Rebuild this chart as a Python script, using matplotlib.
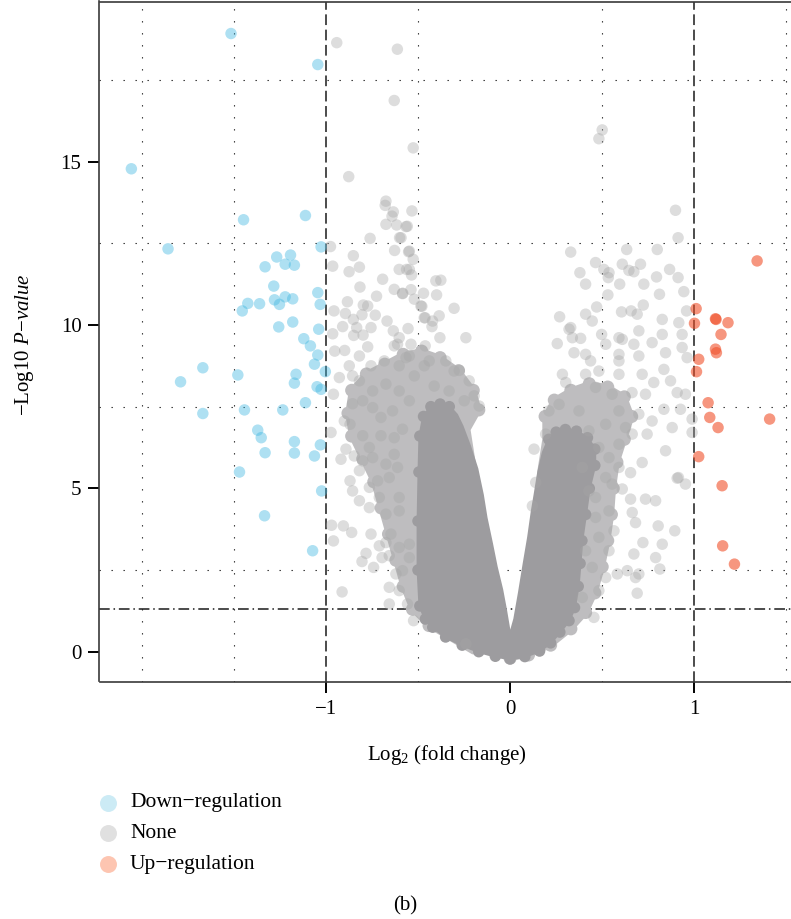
import numpy as np
import matplotlib
matplotlib.use("Agg")
import matplotlib.pyplot as plt
from matplotlib.lines import Line2D

plt.rcParams['font.family'] = ['Liberation Serif', 'DejaVu Serif']
plt.rcParams['mathtext.fontset'] = 'custom'
plt.rcParams['mathtext.rm'] = 'Liberation Serif'
plt.rcParams['mathtext.it'] = 'Liberation Serif:italic'

# ---- data: (log2 fold change, -log10 p) ----
down_points = [
    (-1.515, 18.92), (-1.044, 17.97), (-2.056, 14.78), (-1.447, 13.22), (-1.111, 13.35),
    (-1.857, 12.33), (-1.026, 12.39), (-1.267, 12.08), (-1.192, 12.14), (-1.330, 11.78),
    (-1.221, 11.86), (-1.171, 11.83), (-1.283, 11.19), (-1.044, 10.99), (-1.424, 10.66),
    (-1.360, 10.65), (-1.279, 10.77), (-1.252, 10.63), (-1.221, 10.86), (-1.180, 10.80),
    (-1.031, 10.63), (-1.454, 10.43), (-1.256, 9.94), (-1.180, 10.09), (-1.039, 9.87),
    (-1.120, 9.58), (-1.084, 9.36), (-1.044, 9.08), (-1.062, 8.80), (-1.003, 8.57),
    (-1.668, 8.69), (-1.789, 8.26), (-1.478, 8.47), (-1.162, 8.49), (-1.171, 8.22),
    (-1.048, 8.11), (-1.026, 8.03), (-1.111, 7.62), (-1.668, 7.29), (-1.442, 7.40),
    (-1.234, 7.40), (-1.370, 6.78), (-1.351, 6.55), (-1.171, 6.43), (-1.030, 6.33),
    (-1.330, 6.09), (-1.171, 6.08), (-1.062, 5.99), (-1.469, 5.50), (-1.023, 4.92),
    (-1.333, 4.16), (-1.072, 3.09),
]

up_points = [
    (1.341, 11.96), (1.010, 10.50), (1.115, 10.19), (1.118, 10.17), (1.183, 10.07),
    (1.001, 10.05), (1.145, 9.71), (1.115, 9.26), (1.120, 9.15), (1.024, 8.95),
    (1.012, 8.57), (1.075, 7.62), (1.084, 7.17), (1.409, 7.12), (1.129, 6.86),
    (1.024, 5.97), (1.151, 5.08), (1.154, 3.24), (1.218, 2.68),
]

# individually visible "None" genes
none_points = [
    (-0.941, 18.64), (-0.612, 18.44), (-0.629, 16.87), (-0.526, 15.42), (-0.876, 14.54),
    (0.500, 15.97), (0.482, 15.70), (-0.674, 13.79), (0.898, 13.51), (0.912, 12.67),
    (-0.533, 13.49), (-0.565, 13.01), (-0.592, 12.67), (-0.547, 12.26), (-0.526, 12.01),
    (-0.547, 11.70), (-0.535, 11.53), (-0.403, 11.35), (-0.376, 11.37), (-0.583, 10.97),
    (-0.470, 10.97), (-0.399, 10.92), (-0.520, 10.79), (-0.304, 10.51), (-0.484, 10.58),
    (-0.385, 10.28), (-0.466, 10.22), (-0.421, 10.12), (-0.240, 9.61), (-0.975, 12.40),
    (-0.678, 13.66), (-0.634, 13.46), (-0.641, 13.33), (-0.674, 13.08), (-0.616, 13.06),
    (-0.558, 13.02), (-0.760, 12.65), (-0.600, 12.67), (-0.627, 12.28), (-0.551, 12.24),
    (-0.851, 12.12), (-0.963, 11.80), (-0.818, 11.77), (-0.874, 11.63), (-0.602, 11.70),
    (-0.562, 11.70), (-0.692, 11.40), (-0.815, 11.16), (-0.629, 11.09), (-0.538, 11.08),
    (-0.584, 10.96), (-0.725, 10.88), (-0.883, 10.71), (-0.797, 10.61), (-0.479, 10.57),
    (-0.956, 10.43), (-0.894, 10.35), (-0.773, 10.58), (-0.732, 10.30), (-0.804, 10.31),
    (-0.851, 10.17), (-0.668, 10.12), (-0.461, 10.22), (-0.833, 9.92), (-0.755, 9.92),
    (-0.634, 9.82), (-0.554, 9.89), (-0.424, 9.95), (-0.963, 9.73), (-0.909, 9.95),
    (-0.849, 9.68), (-0.798, 9.69), (-0.602, 9.61), (-0.381, 9.61), (-0.952, 9.20),
    (-0.898, 9.22), (-0.773, 9.33), (-0.818, 9.05), (-0.611, 9.41), (-0.538, 9.41),
    (-0.461, 9.36), (-0.755, 8.75), (-0.873, 8.75), (-0.276, 8.61), (-0.349, 8.90),
    (-0.565, 9.00), (-0.439, 8.90), (-0.629, 9.36), (-0.547, 9.05), (-0.466, 8.75),
    (-0.304, 8.59), (-0.222, 8.29), (-0.520, 8.44), (-0.412, 8.13), (-0.331, 7.98),
    (-0.602, 8.75), (-0.683, 8.90), (-0.195, 7.83), (-0.249, 7.68), (-0.168, 7.52),
    (-0.959, 7.88), (-0.855, 7.59), (-0.900, 7.06), (-0.972, 6.71), (-0.869, 6.96),
    (-0.800, 6.61), (-0.891, 6.20), (-0.918, 5.89), (-0.846, 5.99), (-0.764, 6.25),
    (-0.701, 6.61), (-0.869, 5.23), (-0.818, 4.62), (-0.855, 4.92), (-0.764, 4.41),
    (-0.710, 4.72), (-0.969, 3.87), (-0.905, 3.85), (-0.860, 3.65), (-0.959, 3.39),
    (-0.755, 3.60), (-0.710, 3.24), (-0.782, 3.01), (-0.804, 2.76), (-0.741, 2.58),
    (-0.647, 3.60), (-0.656, 2.94), (-0.695, 2.88), (-0.912, 1.83), (-0.656, 1.97),
    (-0.602, 1.87), (-0.656, 1.46), (-0.557, 1.46), (-0.524, 0.95), (-0.240, 0.24),
    (-0.800, 5.84), (-0.746, 5.94), (-0.674, 5.74), (-0.818, 5.54), (-0.719, 5.23),
    (-0.656, 5.33), (-0.611, 5.64), (-0.764, 5.03), (-0.629, 6.04), (-0.629, 6.55),
    (-0.584, 6.81), (-0.701, 7.17), (-0.638, 7.37), (-0.746, 7.98), (-0.674, 8.19),
    (-0.602, 7.98), (-0.547, 7.68), (-0.818, 8.29), (-0.927, 8.39), (-0.855, 8.44),
    (-0.746, 7.47), (-0.800, 7.68), (-0.602, 4.31), (-0.602, 4.72), (-0.674, 4.21),
    (-0.547, 3.29), (-0.584, 2.48), (-0.620, 2.38), (-0.547, 2.88), (-0.602, 3.19),
    (-0.674, 3.34),
    (0.329, 12.23), (0.633, 12.31), (0.799, 12.31), (0.464, 11.91), (0.708, 11.86),
    (0.609, 11.86), (0.379, 11.60), (0.509, 11.70), (0.537, 11.60), (0.645, 11.67),
    (0.672, 11.63), (0.866, 11.70), (0.795, 11.47), (0.912, 11.45), (0.410, 11.25),
    (0.533, 11.45), (0.595, 11.25), (0.726, 11.25), (0.943, 11.02), (0.811, 10.94),
    (0.531, 10.92), (0.723, 10.61), (0.470, 10.55), (0.410, 10.33), (0.605, 10.40),
    (0.657, 10.43), (0.690, 10.33), (0.269, 10.25), (0.958, 10.43), (0.826, 10.17),
    (0.916, 10.07), (0.329, 9.92), (0.446, 10.12), (0.699, 9.82), (0.826, 9.71),
    (0.934, 9.71), (0.256, 9.43), (0.497, 9.71), (0.609, 9.56), (0.771, 9.46),
    (0.338, 9.61), (0.383, 9.59), (0.320, 9.87), (0.519, 9.41), (0.591, 9.61),
    (0.672, 9.41), (0.844, 9.15), (0.934, 9.31), (0.961, 9.00), (0.347, 9.15),
    (0.410, 9.10), (0.437, 8.90), (0.591, 9.10), (0.699, 9.05), (0.591, 8.90),
    (0.835, 8.64), (0.284, 8.49), (0.302, 8.24), (0.410, 8.49), (0.482, 8.59),
    (0.591, 8.49), (0.717, 8.49), (0.780, 8.24), (0.871, 8.29), (0.907, 7.93),
    (0.952, 7.88), (0.464, 8.09), (0.554, 7.88), (0.662, 7.93), (0.735, 7.88),
    (0.988, 7.12), (0.988, 6.71), (0.880, 6.86), (0.835, 7.42), (0.925, 7.42),
    (0.771, 7.06), (0.844, 6.15), (0.744, 6.66), (0.907, 5.31), (0.952, 5.13),
    (0.735, 4.67), (0.790, 4.62), (0.654, 4.67), (0.663, 4.26), (0.681, 3.95),
    (0.804, 3.85), (0.894, 3.70), (0.721, 3.34), (0.826, 3.29), (0.672, 2.99),
    (0.790, 2.88), (0.813, 2.53), (0.636, 2.48), (0.699, 2.38), (0.681, 2.27),
    (0.690, 1.79), (0.582, 2.38), (0.455, 1.05), (0.130, 6.20), (0.139, 5.18),
    (0.121, 4.46), (0.663, 6.66), (0.717, 5.79), (0.654, 5.48), (0.591, 5.64),
    (0.554, 5.13), (0.609, 4.98), (0.537, 4.31), (0.564, 3.70), (0.537, 3.09),
    (0.519, 2.27), (0.482, 1.87), (0.392, 1.66), (0.446, 2.58), (0.482, 3.50),
    (0.464, 4.11), (0.464, 4.72), (0.519, 5.33), (0.537, 5.94), (0.591, 6.35),
    (0.482, 6.25), (0.627, 6.86), (0.699, 7.27), (0.591, 7.37), (0.519, 6.96),
    (0.428, 6.76), (0.374, 7.37), (0.266, 7.57), (0.211, 7.37), (0.193, 6.66),
    (0.392, 5.64), (0.428, 4.92), (0.410, 3.09), (0.914, 5.33),
]

# outline of the solid V-shaped mass of overlapping "None" genes
core_outline = [
    (0.0, 0.45), (-0.01, 0.8), (-0.025, 1.3), (-0.045, 1.9), (-0.075, 2.6), (-0.10, 3.3),
    (-0.13, 4.1), (-0.15, 4.8), (-0.18, 5.6), (-0.22, 6.3), (-0.26, 6.9), (-0.29, 7.25),
    (-0.33, 7.5), (-0.38, 7.58), (-0.43, 7.5), (-0.47, 7.2), (-0.49, 6.6), (-0.495, 5.5),
    (-0.50, 4.0), (-0.50, 2.5), (-0.49, 1.4), (-0.46, 1.0), (-0.42, 0.75), (-0.35, 0.45),
    (-0.26, 0.2), (-0.17, 0.0), (-0.08, -0.14), (0.0, -0.22), (0.08, -0.15), (0.16, 0.02),
    (0.22, 0.27), (0.27, 0.6), (0.32, 0.95), (0.35, 1.35), (0.37, 2.0), (0.38, 2.7),
    (0.39, 3.4), (0.41, 4.2), (0.43, 5.0), (0.46, 5.7), (0.46, 6.2), (0.42, 6.55),
    (0.36, 6.75), (0.30, 6.8), (0.25, 6.72), (0.21, 6.5), (0.18, 6.1), (0.155, 5.5),
    (0.135, 4.8), (0.12, 4.3), (0.10, 3.5), (0.076, 2.7), (0.05, 1.8), (0.025, 1.0),
    (0.01, 0.7),
]

# looser, semi-dense fringe around each lobe
halo_left = [
    (-0.44, 0.8), (-0.53, 1.3), (-0.58, 2.0), (-0.62, 2.8), (-0.66, 3.6), (-0.70, 4.4),
    (-0.74, 5.2), (-0.80, 5.9), (-0.86, 6.6), (-0.88, 7.3), (-0.86, 8.0), (-0.78, 8.5),
    (-0.68, 8.8), (-0.58, 9.1), (-0.48, 9.2), (-0.38, 9.0), (-0.28, 8.6), (-0.20, 8.0),
    (-0.17, 7.4), (-0.23, 6.8), (-0.18, 5.0), (-0.08, 1.8), (-0.03, 0.5), (-0.2, 0.0),
]
halo_right = [
    (0.05, 0.9), (0.09, 2.3), (0.12, 3.6), (0.145, 4.6), (0.165, 5.6), (0.19, 6.5),
    (0.19, 7.2), (0.24, 7.7), (0.33, 8.0), (0.43, 8.2), (0.53, 8.1), (0.62, 7.8),
    (0.66, 7.2), (0.62, 6.5), (0.58, 5.8), (0.56, 5.0), (0.55, 4.2), (0.53, 3.4),
    (0.50, 2.6), (0.46, 1.8), (0.41, 1.2), (0.33, 0.7), (0.22, 0.2), (0.1, -0.1),
    (0.0, -0.2),
]

fc_cut = 1.0
p_cut = 1.301  # -log10(0.05)
legend_labels = ['Down\u2212regulation', 'None', 'Up\u2212regulation']

down = np.array(down_points)
up = np.array(up_points)
none = np.array(none_points)
core = np.array(core_outline)
hl = np.array(halo_left)
hr = np.array(halo_right)

fig = plt.figure(figsize=(7.91, 9.19), dpi=100)
W, H = 791.0, 919.0
ax = fig.add_axes([99.5 / W, 1 - 681.5 / H, (W - 99.5) / W, 680.0 / H])

pt_size = 68
gray_core = '#9D9C9F'
gray_halo = '#BEBDBF'
# semi-dense fringe: opaque fill, outer side rounded by circles
ax.fill(hl[:, 0], hl[:, 1], facecolor=gray_halo, edgecolor=gray_halo,
        lw=4, joinstyle='round', zorder=1.55)
ax.fill(hr[:, 0], hr[:, 1], facecolor=gray_halo, edgecolor=gray_halo,
        lw=4, joinstyle='round', zorder=1.55)
ax.scatter(hl[:19, 0], hl[:19, 1], s=pt_size * 1.3, c=gray_halo, edgecolors='none', zorder=1.56)
ax.scatter(hr[6:, 0], hr[6:, 1], s=pt_size * 1.3, c=gray_halo, edgecolors='none', zorder=1.56)
# solid core (bumps only on the outer side, the V notch stays sharp)
ax.fill(core[:, 0], core[:, 1], facecolor=gray_core, edgecolor=gray_core,
        lw=2, joinstyle='round', zorder=1.6)
ax.scatter(core[12:46, 0], core[12:46, 1], s=pt_size, c=gray_core, edgecolors='none', zorder=1.61)

ax.scatter(none[:, 0], none[:, 1], s=pt_size, c='#A6A6A6', alpha=0.38,
           edgecolors='none', zorder=2)
ax.scatter(down[:, 0], down[:, 1], s=pt_size, c='#3EB6E0', alpha=0.42,
           edgecolors='none', zorder=3)
ax.scatter(up[:, 0], up[:, 1], s=pt_size, c='#F0502A', alpha=0.6,
           edgecolors='none', zorder=3)

# threshold lines
for v in (-fc_cut, fc_cut):
    ax.axvline(v, color='#1a1a1a', lw=1.1, ls=(0, (7, 3)), zorder=1.5)
ax.axhline(p_cut, color='#1a1a1a', lw=1.1, ls=(0, (7, 2.5, 1, 2.5)), zorder=1.5)

ax.set_xlim(-2.229, 1.525)
ax.set_ylim(-0.912, 19.90)

ax.set_xticks([-1, 0, 1])
ax.set_yticks([0, 5, 10, 15])
ax.set_xticks(np.arange(-2, 1.51, 0.5), minor=True)
ax.set_yticks(np.arange(0, 19, 2.5), minor=True)
ax.grid(which='minor', color='#222222', lw=0.8, ls=(0, (1.2, 9.6)))
ax.grid(which='major', visible=False)
ax.set_axisbelow(True)
ax.tick_params(which='major', direction='out', length=8, width=1.4,
               color='black', labelsize=15, pad=5)
ax.tick_params(which='minor', length=0)

ax.spines['right'].set_visible(False)
for s in ('left', 'top', 'bottom'):
    ax.spines[s].set_color('#3a3a3a')
    ax.spines[s].set_linewidth(1.2)

fig.text(447 / W, 1 - 755 / H, 'Log$_2$ (fold change)', ha='center', va='center', fontsize=15)
fig.text(24 / W, 1 - 345 / H, '\u2212Log10 $\\mathit{P{-}value}$', ha='center',
         va='center', rotation=90, fontsize=15)

# legend
leg_colors = ['#CCEBF5', '#E0E0E0', '#FDC5B1']
leg_y = [803, 833, 864]
for lab, col, yy in zip(legend_labels, leg_colors, leg_y):
    fig.add_artist(Line2D([108 / W], [1 - yy / H], transform=fig.transFigure,
                          marker='o', markersize=12.2, markerfacecolor=col,
                          markeredgecolor='none', linestyle='none'))
    fig.text(130 / W, 1 - yy / H, lab, ha='left', va='center', fontsize=15.5)

fig.text(405 / W, 1 - 906 / H, '(b)', ha='center', va='center', fontsize=15)

fig.savefig('out.png', dpi=100)
